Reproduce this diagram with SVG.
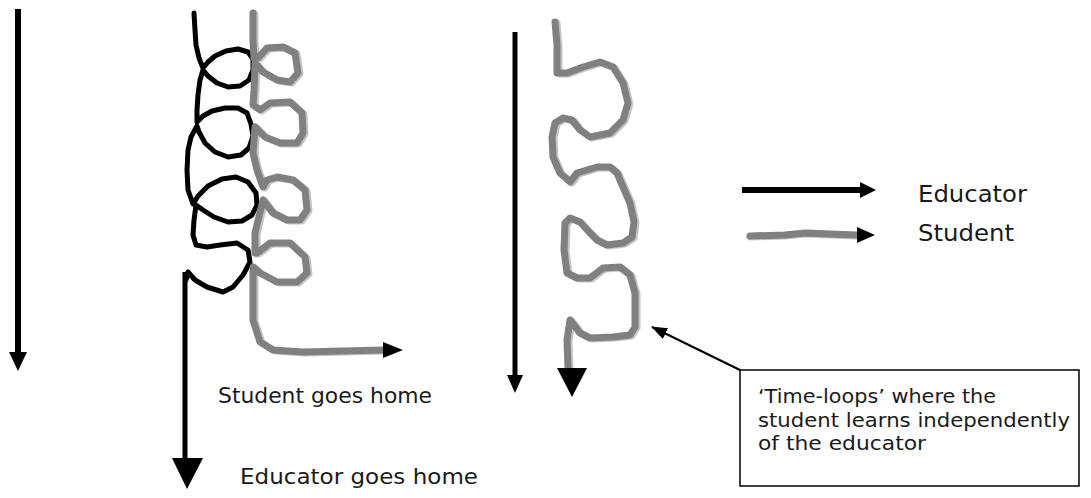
<svg xmlns="http://www.w3.org/2000/svg" width="1091" height="498" viewBox="0 0 1091 498">
  <style>
    .txt { font-family: "DejaVu Sans", "Liberation Sans", sans-serif; fill: #1a1a1a; }
    .blk { fill: none; stroke: #000; stroke-width: 5; stroke-linecap: round; stroke-linejoin: round; }
    .gry { fill: none; stroke: #808080; stroke-width: 7; stroke-linecap: round; stroke-linejoin: round; }
    .gry-hi { fill: none; stroke: #c4c4c4; stroke-width: 7; stroke-linecap: round; stroke-linejoin: round; }
    .head { fill: #000; stroke: none; }
  </style>
  <defs>
    <marker id="leader-head" markerWidth="16" markerHeight="12" refX="15" refY="6" orient="auto" markerUnits="userSpaceOnUse">
      <path d="M0,0 L16,6 L0,12 Z" fill="#000"/>
    </marker>
  </defs>
  <rect width="1091" height="498" fill="#fff"/>

  <!-- overall time axis on the left -->
  <g id="time-axis">
    <line x1="18" y1="9" x2="18" y2="354" stroke="#000" stroke-width="6"/>
    <polygon class="head" points="9,352 27,352 18,371"/>
  </g>

  <!-- educator: loops then straight run home -->
  <g id="educator-path">
    <polyline class="blk" points="194,13 195,30 196,45 199,58 203,68 208,62 215,56 226,51 238,49 248,52 253,59 253,70 249,80 240,86 228,87 217,83 208,76 203,70 200,80 198,95 197,110 197,122 203,116 212,111 225,108 238,108 247,113 251,124 253,136 249,148 241,155 228,157 215,152 205,143 199,132 197,126 191,137 188,150 187,170 188,190 193,204 198,196 208,186 222,179 236,177 248,182 256,193 257,205 252,215 242,221 228,222 214,217 203,210 196,205 194,220 193,235 196,245 207,247 220,245 237,243 248,250 250,262 243,275 233,287 223,292 207,287 195,280 188,272 186,280"/>
    <line x1="185" y1="272" x2="185" y2="460" stroke="#000" stroke-width="5"/>
    <polygon class="head" points="172,458 203,458 187,489"/>
  </g>

  <!-- student: small loops beside the educator, then off home -->
  <g id="student-path">
    <polyline class="gry-hi" transform="translate(2,1)" points="253,13 253,40 254,58 258,58 267,48 283,47 295,53 298,73 290,82 277,80 263,72 255,63 254,90 253,105 260,110 270,103 290,102 302,113 303,133 297,143 280,143 265,137 255,127 253,153 257,170 263,187 267,180 277,177 293,180 305,190 307,210 300,220 287,220 273,213 263,200 255,233 255,253 257,253 270,243 290,243 305,257 307,273 297,282 277,282 260,273 253,267 253,290 253,320 260,342 273,350 303,352 383,350"/>
    <polyline class="gry" points="253,13 253,40 254,58 258,58 267,48 283,47 295,53 298,73 290,82 277,80 263,72 255,63 254,90 253,105 260,110 270,103 290,102 302,113 303,133 297,143 280,143 265,137 255,127 253,153 257,170 263,187 267,180 277,177 293,180 305,190 307,210 300,220 287,220 273,213 263,200 255,233 255,253 257,253 270,243 290,243 305,257 307,273 297,282 277,282 260,273 253,267 253,290 253,320 260,342 273,350 303,352 383,350"/>
    <polygon class="head" points="383,342 383,358 403,350"/>
  </g>

  <!-- second time axis -->
  <g id="time-axis-2">
    <line x1="515" y1="32" x2="515" y2="377" stroke="#000" stroke-width="5"/>
    <polygon class="head" points="507,375 523,375 515,393"/>
  </g>

  <!-- student time-loops -->
  <g id="student-loops">
    <polyline class="gry-hi" transform="translate(2,1)" points="555,22 557,45 557,73 567,73 583,67 600,62 613,67 623,83 628,103 623,120 610,133 590,137 580,130 572,120 563,118 555,123 552,137 553,157 560,173 570,182 577,173 597,167 610,167 617,173 623,187 630,203 634,222 632,237 623,243 607,245 597,240 590,233 580,222 570,218 565,223 564,250 567,273 577,278 590,278 603,268 620,267 630,275 635,293 635,327 630,335 613,337 590,338 580,333 570,320 567,340 568,368"/>
    <polyline class="gry" points="555,22 557,45 557,73 567,73 583,67 600,62 613,67 623,83 628,103 623,120 610,133 590,137 580,130 572,120 563,118 555,123 552,137 553,157 560,173 570,182 577,173 597,167 610,167 617,173 623,187 630,203 634,222 632,237 623,243 607,245 597,240 590,233 580,222 570,218 565,223 564,250 567,273 577,278 590,278 603,268 620,267 630,275 635,293 635,327 630,335 613,337 590,338 580,333 570,320 567,340 568,368"/>
    <polygon class="head" points="557,368 587,368 572,397"/>
  </g>

  <!-- legend -->
  <g id="legend">
    <line x1="742" y1="190" x2="862" y2="190" stroke="#000" stroke-width="6"/>
    <polygon class="head" points="860,182 860,198 876,190"/>
    <polyline class="gry-hi" points="750,237 785,236 805,234 830,235 857,236"/>
    <polyline class="gry" points="750,236 785,235 805,233 830,234 857,235"/>
    <polygon class="head" points="857,227 857,243 875,235"/>
    <text class="txt" x="918" y="202" font-size="23" textLength="109" lengthAdjust="spacingAndGlyphs">Educator</text>
    <text class="txt" x="918" y="241" font-size="23" textLength="96" lengthAdjust="spacingAndGlyphs">Student</text>
  </g>

  <!-- labels -->
  <g id="labels">
    <text class="txt" x="218" y="403" font-size="21" textLength="214" lengthAdjust="spacingAndGlyphs">Student goes home</text>
    <text class="txt" x="240" y="484" font-size="21" textLength="238" lengthAdjust="spacingAndGlyphs">Educator goes home</text>
  </g>

  <!-- callout -->
  <g id="callout">
    <rect x="740" y="370" width="339" height="116" fill="#fff" stroke="#000" stroke-width="1.5"/>
    <text class="txt" font-size="20">
      <tspan x="758" y="403" textLength="238" lengthAdjust="spacingAndGlyphs">‘Time-loops’ where the</tspan>
      <tspan x="758" y="427" textLength="312" lengthAdjust="spacingAndGlyphs">student learns independently</tspan>
      <tspan x="758" y="450" textLength="168" lengthAdjust="spacingAndGlyphs">of the educator</tspan>
    </text>
  </g>

  <g id="connectors">
    <line x1="740" y1="370" x2="652" y2="327" stroke="#000" stroke-width="2" marker-end="url(#leader-head)"/>
  </g>
</svg>
